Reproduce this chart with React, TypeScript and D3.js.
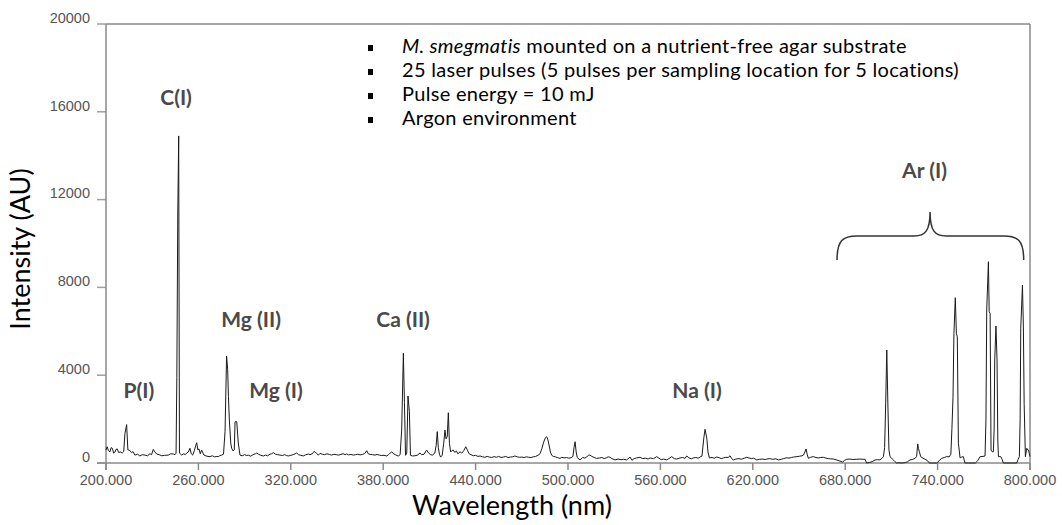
import React from 'react';
import * as d3 from 'd3';

// Spectrum points: [wavelength (nm), intensity (AU)]
const spectrumPoints: [number, number][] = [
  [200.0, 590], [200.8, 740], [201.6, 560], [202.6, 510], [203.3, 700], [204.1, 670], [205.0, 450], [205.8, 500],
  [206.5, 620], [207.3, 640], [208.2, 480], [209.5, 500], [210.5, 450], [211.5, 520], [212.3, 1350], [213.4, 1750],
  [214.2, 600], [215.1, 590], [216.6, 470], [217.5, 520], [218.8, 360], [220.5, 400], [222.0, 320], [223.5, 380],
  [225.3, 360], [227.0, 330], [228.5, 420], [229.6, 380], [230.7, 620], [231.8, 500], [232.9, 410], [234.5, 380],
  [236.2, 330], [238.0, 350], [240.5, 360], [242.0, 420], [243.7, 410], [244.8, 380], [245.5, 450], [246.0, 3900],
  [246.6, 11250], [247.2, 14900], [247.7, 450], [249.2, 360], [250.5, 420], [251.5, 380], [252.4, 455], [253.5, 500],
  [254.5, 670], [255.4, 420], [256.3, 360], [257.3, 550], [258.3, 800], [258.9, 925], [259.6, 600], [260.4, 640],
  [261.2, 420], [262.1, 590], [263.6, 360], [265.0, 320], [266.2, 300], [267.5, 290], [269.0, 330], [270.5, 280],
  [272.0, 300], [272.9, 290], [274.0, 340], [275.1, 360], [276.3, 400], [277.3, 1430], [278.3, 4870], [279.0, 4270],
  [279.5, 3020], [280.1, 1960], [281.0, 910], [281.6, 670], [282.5, 550], [283.3, 600], [283.8, 1880], [284.9, 1880],
  [285.9, 910], [287.0, 360], [288.5, 330], [290.0, 380], [291.3, 340], [292.4, 360], [294.0, 310], [295.5, 380],
  [297.0, 420], [297.9, 455], [299.0, 400], [300.5, 350], [302.2, 320], [303.5, 360], [305.0, 330], [306.5, 400],
  [307.5, 420], [308.7, 470], [310.0, 400], [311.5, 380], [313.0, 360], [314.5, 340], [316.0, 380], [317.2, 340],
  [318.4, 320], [320.0, 350], [321.5, 380], [322.8, 420], [323.8, 455], [325.0, 380], [326.5, 350], [328.1, 320],
  [329.5, 370], [331.4, 410], [332.5, 380], [334.0, 420], [335.0, 520], [335.7, 510], [336.8, 430], [337.9, 360],
  [339.0, 440], [340.5, 400], [342.0, 380], [343.5, 420], [345.0, 390], [346.5, 360], [348.0, 400], [349.5, 380],
  [351.0, 360], [352.5, 390], [354.0, 420], [355.3, 380], [356.3, 410], [357.5, 370], [359.0, 390], [360.6, 360],
  [362.0, 380], [363.5, 400], [365.0, 370], [366.5, 390], [368.0, 430], [369.3, 560], [370.3, 420], [371.5, 390],
  [373.0, 380], [374.7, 360], [376.0, 390], [377.5, 360], [379.0, 340], [380.5, 350], [382.3, 320], [383.5, 380],
  [384.5, 450], [385.5, 510], [386.5, 430], [387.8, 380], [389.0, 340], [389.8, 320], [391.0, 380], [392.0, 1500],
  [393.1, 5000], [393.8, 2750], [394.5, 350], [395.3, 450], [396.1, 3050], [397.0, 2340], [397.7, 350], [399.0, 320],
  [400.5, 330], [402.0, 350], [403.9, 450], [405.0, 380], [406.5, 400], [408.2, 590], [409.5, 450], [410.8, 380],
  [412.0, 360], [413.5, 450], [414.4, 800], [415.1, 1430], [415.8, 700], [416.5, 400], [417.3, 270], [418.3, 350],
  [419.3, 900], [420.1, 1500], [420.8, 1100], [421.6, 1200], [422.3, 2290], [423.0, 900], [423.8, 500], [424.6, 560],
  [425.5, 590], [426.5, 480], [427.5, 550], [428.5, 420], [429.9, 510], [431.0, 450], [432.3, 560], [433.6, 740],
  [434.6, 600], [435.8, 420], [437.0, 380], [438.5, 330], [440.0, 350], [441.5, 300], [442.9, 320], [444.5, 280],
  [446.0, 260], [447.5, 300], [449.0, 270], [450.5, 250], [452.0, 290], [453.5, 260], [455.0, 300], [456.5, 250],
  [458.0, 270], [459.5, 300], [461.0, 250], [462.5, 270], [464.0, 280], [465.5, 320], [467.0, 280], [468.5, 260],
  [470.0, 270], [471.5, 250], [473.0, 280], [474.5, 260], [476.0, 250], [477.5, 280], [479.0, 300], [480.5, 350],
  [481.8, 420], [483.0, 650], [484.2, 950], [485.3, 1150], [486.2, 1200], [487.0, 1050], [487.8, 780], [488.6, 500],
  [489.4, 350], [490.5, 300], [491.8, 280], [493.0, 250], [494.8, 210], [496.0, 260], [497.5, 230], [499.0, 250],
  [500.5, 220], [502.0, 240], [503.2, 300], [503.9, 700], [504.6, 970], [505.3, 500], [506.0, 250], [507.8, 140],
  [509.5, 250], [511.0, 220], [512.5, 300], [513.5, 360], [514.3, 360], [515.5, 300], [517.0, 250], [518.6, 210],
  [520.5, 230], [522.0, 250], [523.5, 200], [525.0, 240], [526.2, 280], [527.3, 260], [528.5, 200], [530.6, 140],
  [532.5, 180], [534.5, 150], [536.0, 170], [538.1, 140], [540.3, 270], [541.5, 130], [543.0, 200], [544.5, 230],
  [546.8, 260], [548.5, 200], [550.5, 220], [552.0, 180], [553.3, 230], [555.5, 200], [557.6, 290], [559.0, 220],
  [560.5, 150], [562.0, 180], [564.1, 140], [565.5, 200], [567.3, 290], [569.0, 200], [570.5, 180], [572.7, 230],
  [574.5, 250], [576.0, 210], [577.1, 320], [578.5, 240], [580.0, 190], [581.4, 230], [583.0, 250], [584.5, 220],
  [585.7, 270], [587.0, 320], [588.2, 1140], [589.0, 1535], [590.1, 1140], [590.9, 500], [591.8, 230], [593.5, 250],
  [595.0, 220], [596.6, 270], [598.2, 240], [599.5, 200], [600.9, 230], [602.5, 260], [604.0, 250], [605.2, 330],
  [606.3, 200], [607.4, 140], [609.0, 180], [611.0, 200], [612.5, 170], [614.5, 220], [616.1, 260], [617.5, 230],
  [619.0, 200], [620.5, 220], [622.6, 140], [624.5, 170], [626.5, 180], [628.0, 160], [629.1, 180], [631.0, 200],
  [633.0, 170], [635.0, 190], [636.6, 140], [638.5, 170], [640.0, 200], [642.1, 240], [643.5, 220], [645.0, 250],
  [646.5, 270], [648.6, 290], [650.5, 310], [652.0, 330], [652.9, 360], [653.8, 500], [654.6, 640], [655.3, 400],
  [656.1, 210], [657.5, 260], [659.3, 290], [661.0, 250], [662.5, 230], [664.0, 250], [665.8, 260], [667.5, 220],
  [669.0, 200], [670.5, 190], [672.3, 180], [674.0, 150], [676.0, 100], [678.4, 45], [679.5, 120], [681.0, 170],
  [683.0, 180], [685.0, 160], [687.5, 170], [689.5, 180], [691.5, 170], [692.9, 170], [693.9, 0], [695.5, 20],
  [697.5, 60], [699.4, 140], [701.0, 150], [702.6, 140], [704.0, 220], [704.8, 290], [705.6, 700], [706.3, 2730],
  [707.0, 5150], [707.7, 2730], [708.4, 600], [709.1, 290], [710.2, 220], [711.2, 140], [712.3, 60], [713.4, 0],
  [715.0, 10], [717.0, 0], [719.0, 20], [720.5, 60], [722.1, 140], [723.5, 160], [725.4, 210], [726.4, 300],
  [727.1, 870], [727.6, 650], [728.2, 510], [729.0, 290], [730.5, 220], [731.8, 170], [733.2, 120], [734.6, 0],
  [736.5, 0], [739.4, 0], [741.0, 100], [742.6, 210], [744.3, 250], [745.9, 290], [747.5, 280], [748.6, 400],
  [749.3, 1580], [750.0, 3000], [750.6, 5910], [751.5, 7530], [752.2, 5900], [752.8, 5750], [753.5, 900], [754.6, 230],
  [755.6, 270], [756.7, 290], [757.8, 0], [760.0, 0], [762.5, 0], [764.5, 0], [766.0, 100], [767.6, 290],
  [769.5, 300], [770.8, 320], [771.4, 2000], [771.9, 6970], [773.0, 9170], [773.5, 6900], [774.1, 6820], [774.7, 590],
  [775.5, 510], [776.2, 510], [776.7, 1500], [777.1, 4690], [777.9, 6240], [778.6, 4690], [779.1, 1000], [779.5, 290],
  [781.0, 290], [782.0, 150], [782.7, 0], [785.0, 0], [788.0, 0], [791.4, 0], [792.2, 150], [793.1, 290],
  [793.6, 2000], [794.0, 6140], [795.1, 8100], [795.7, 6200], [796.2, 2720], [797.0, 290], [797.9, 670], [798.5, 600],
  [799.0, 590], [800.0, 290],
];

const xTicks = [200, 260, 320, 380, 440, 500, 560, 620, 680, 740, 800];
const yTicks = [0, 4000, 8000, 12000, 16000, 20000];

const peakLabels = ['C(I)', 'P(I)', 'Mg (II)', 'Mg (I)', 'Ca (II)', 'Na (I)', 'Ar (I)'];
const peakLabelNm = [245.5, 221.4, 294.2, 310.4, 392.9, 583.8, 731.5];
const peakLabelAU = [16540, 3190, 6420, 3190, 6420, 3190, 13210];

// Brace over the Ar (I) lines: [start nm, mid nm, end nm], [end AU, bar AU, tip AU]
const braceNm = [674.7, 735.1, 795.9];
const braceAU = [9250, 10340, 11435];

const noteItalic = ['M. smegmatis', '', '', ''];
const noteText = [
  ' mounted on a nutrient-free agar substrate',
  '25 laser pulses (5 pulses per sampling location for 5 locations)',
  'Pulse energy = 10 mJ',
  'Argon environment',
];

const W = 1062;
const H = 525;
const M = { left: 106, right: 32, top: 24, bottom: 62 };

export default function App() {
  const x = d3.scaleLinear().domain([200, 800]).range([M.left, W - M.right]);
  const y = d3.scaleLinear().domain([0, 20000]).range([H - M.bottom, M.top]);
  const line = d3
    .line<[number, number]>()
    .x((d) => x(d[0]))
    .y((d) => y(d[1]));

  const x0 = x(200);
  const x1 = x(800);
  const y0 = y(0);
  const yTop = y(20000);

  const bx0 = x(braceNm[0]);
  const bxm = x(braceNm[1]);
  const bx1 = x(braceNm[2]);
  const byEnd = y(braceAU[0]);
  const byBar = y(braceAU[1]);
  const byTip = y(braceAU[2]);
  const bracePath = [
    `M${bx0},${byEnd}`,
    `C${bx0},${byBar + 4} ${bx0 + 6},${byBar} ${bx0 + 20},${byBar}`,
    `L${bxm - 16},${byBar}`,
    `C${bxm - 5},${byBar} ${bxm},${byBar - 5} ${bxm},${byTip}`,
    `C${bxm},${byBar - 5} ${bxm + 5},${byBar} ${bxm + 16},${byBar}`,
    `L${bx1 - 20},${byBar}`,
    `C${bx1 - 6},${byBar} ${bx1},${byBar + 4} ${bx1},${byEnd}`,
  ].join(' ');

  const noteX = 402;
  const noteY0 = 48;
  const noteDy = 24;

  return (
    <svg
      width={W}
      height={H}
      style={{ position: 'absolute', left: 0, top: 0, background: '#fff' }}
    >
      <rect x={0} y={0} width={W} height={H} fill="#fff" />
      {yTicks.map((t) => (
        <g key={'y' + t}>
          <line x1={x0 - 9} x2={x0} y1={y(t)} y2={y(t)} stroke="#a0a0a0" strokeWidth={1.5} />
          <text
            x={x0 - 16}
            y={y(t) - 5}
            textAnchor="end"
            dominantBaseline="middle"
            fontFamily="Liberation Sans, Arial, sans-serif"
            fontSize={14.5}
            fill="#555"
          >
            {t}
          </text>
        </g>
      ))}
      <line x1={x0} x2={x1} y1={yTop} y2={yTop} stroke="#8a8a8a" strokeWidth={1.5} />
      <line x1={x1} x2={x1} y1={yTop} y2={y0 + 7} stroke="#8a8a8a" strokeWidth={1.5} />
      <line x1={x0} x2={x0} y1={yTop} y2={y0 + 7} stroke="#8a8a8a" strokeWidth={1.5} />
      <line x1={x0 - 9} x2={x1} y1={y0} y2={y0} stroke="#8a8a8a" strokeWidth={1.5} />
      {xTicks.map((t) => (
        <g key={'x' + t}>
          <line x1={x(t)} x2={x(t)} y1={y0} y2={y0 + 7} stroke="#8a8a8a" strokeWidth={1.5} />
          <text
            x={x(t)}
            y={y0 + 18}
            textAnchor="middle"
            dominantBaseline="middle"
            fontFamily="Liberation Sans, Arial, sans-serif"
            fontSize={14.5}
            fill="#555"
          >
            {t.toFixed(3)}
          </text>
        </g>
      ))}
      <path d={line(spectrumPoints) || ''} fill="none" stroke="#1a1a1a" strokeWidth={1} />
      {peakLabels.map((l, i) => (
        <text
          key={l}
          x={x(peakLabelNm[i])}
          y={y(peakLabelAU[i])}
          textAnchor="middle"
          dominantBaseline="middle"
          fontFamily="Lato, 'Open Sans', sans-serif"
          fontWeight="bold"
          fontSize={21}
          fill="#4a4a4a"
        >
          {l}
        </text>
      ))}
      <path d={bracePath} fill="none" stroke="#333" strokeWidth={1.5} />
      {noteText.map((t, i) => (
        <g key={'n' + i}>
          <rect x={368} y={noteY0 + i * noteDy - 3} width={5} height={6} fill="#000" />
          <text
            x={noteX}
            y={noteY0 + i * noteDy}
            dominantBaseline="middle"
            fontFamily="Lato, 'Open Sans', sans-serif"
            fontSize={20}
            letterSpacing={0.3}
            fill="#000"
          >
            {noteItalic[i] ? <tspan fontStyle="italic">{noteItalic[i]}</tspan> : null}
            <tspan>{t}</tspan>
          </text>
        </g>
      ))}
      <text
        x={512}
        y={508}
        textAnchor="middle"
        dominantBaseline="middle"
        fontFamily="Lato, 'Open Sans', sans-serif"
        fontSize={27}
        fill="#000"
      >
        Wavelength (nm)
      </text>
      <text
        transform={`translate(23, ${249}) rotate(-90)`}
        textAnchor="middle"
        dominantBaseline="middle"
        fontFamily="Lato, 'Open Sans', sans-serif"
        fontSize={27}
        fill="#000"
      >
        Intensity (AU)
      </text>
    </svg>
  );
}
